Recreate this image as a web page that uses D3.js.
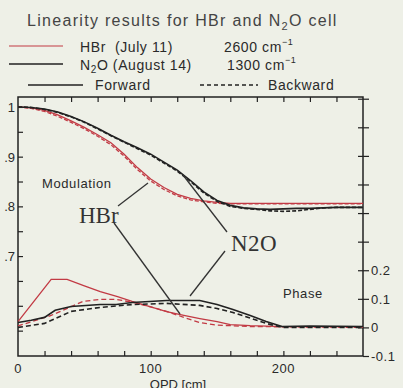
<!DOCTYPE html>
<html>
<head>
<meta charset="utf-8">
<script src="https://cdn.jsdelivr.net/npm/d3@7"></script>
<style>
  body { margin: 0; background: #eef0e7; }
  svg { display: block; }
  text { font-family: "Liberation Sans", Arial, sans-serif; fill: #2a2a2a; }
  .serif { font-family: "Liberation Serif", "DejaVu Serif", serif; }
</style>
</head>
<body>
<div id="chart"></div>
<script>
// OPD grid for modulation curves (cm)
const modOpd = [0, 10, 20, 30, 40, 50, 60, 70, 80, 90, 100, 110, 120, 130, 140, 150, 160, 170, 180, 190, 200, 210, 220, 230, 240, 250, 260];
const hbrModFwd = [1.0, 0.998, 0.993, 0.984, 0.972, 0.959, 0.944, 0.928, 0.905, 0.878, 0.855, 0.838, 0.824, 0.816, 0.811, 0.808, 0.806, 0.806, 0.806, 0.806, 0.806, 0.806, 0.806, 0.806, 0.806, 0.806, 0.806];
const hbrModBwd = [1.0, 0.997, 0.991, 0.981, 0.969, 0.956, 0.941, 0.924, 0.901, 0.874, 0.851, 0.834, 0.821, 0.813, 0.809, 0.806, 0.805, 0.805, 0.805, 0.805, 0.805, 0.805, 0.805, 0.805, 0.805, 0.805, 0.805];
const n2oModFwd = [1.0, 0.999, 0.996, 0.99, 0.981, 0.97, 0.957, 0.943, 0.93, 0.918, 0.905, 0.889, 0.873, 0.852, 0.829, 0.812, 0.802, 0.797, 0.795, 0.794, 0.795, 0.796, 0.796, 0.797, 0.798, 0.798, 0.798];
const n2oModBwd = [1.0, 0.999, 0.995, 0.989, 0.98, 0.969, 0.956, 0.942, 0.929, 0.916, 0.903, 0.887, 0.871, 0.85, 0.827, 0.81, 0.8, 0.796, 0.794, 0.791, 0.79, 0.791, 0.794, 0.797, 0.798, 0.798, 0.798];

// phase curves: [OPD, phase]
const hbrPhaseFwd = [[0, 0.02], [25, 0.168], [37, 0.168], [50, 0.145], [62, 0.125], [75, 0.108], [86, 0.091], [100, 0.072], [112, 0.055], [125, 0.042], [137, 0.031], [150, 0.02], [160, 0.01], [175, 0.006], [200, 0.003], [260, 0.003]];
const hbrPhaseBwd = [[0, 0.005], [25, 0.042], [49, 0.091], [62, 0.098], [74, 0.098], [86, 0.088], [100, 0.072], [112, 0.056], [125, 0.035], [137, 0.017], [150, 0.008], [175, 0.003], [260, 0.0]];
const n2oPhaseFwd = [[0, 0.017], [10, 0.025], [20, 0.035], [28, 0.06], [40, 0.073], [62, 0.08], [74, 0.08], [86, 0.087], [112, 0.094], [137, 0.094], [150, 0.08], [162, 0.063], [175, 0.042], [187, 0.021], [199, 0.003], [220, 0.005], [260, 0.003]];
const n2oPhaseBwd = [[0, 0.0], [20, 0.014], [40, 0.056], [62, 0.07], [86, 0.08], [112, 0.084], [137, 0.077], [150, 0.066], [162, 0.052], [175, 0.033], [187, 0.014], [199, 0.0], [260, 0.0]];

const xTicks = [0, 100, 200];
const leftTicks = [1, 0.9, 0.8, 0.7];
const leftTickLabels = ["1", ".9", ".8", ".7"];
const rightTicks = [0.2, 0.1, 0, -0.1];
const rightTickLabels = ["0.2", "0.1", "0", "-0.1"];

const red = "#c23a44", black = "#222";

const svg = d3.select("#chart").append("svg")
    .attr("width", 403)
    .attr("height", 388);

const margin = { top: 97, right: 40, bottom: 32, left: 18 },
    width = 403 - margin.left - margin.right,
    height = 388 - margin.top - margin.bottom;

const g = svg.append("g")
    .attr("transform", `translate(${margin.left},${margin.top})`);

const x = d3.scaleLinear().domain([0, 260]).range([0, width]);
const yL = d3.scaleLinear().domain([0.499, 1.02]).range([height, 0]);
const yR = d3.scaleLinear().domain([-0.1, 0.806]).range([height, 0]);

// title + legend
svg.append("text").attr("x", 27).attr("y", 26)
    .style("font-size", "16px").style("fill", "#444").style("letter-spacing", "1.3px")
    .html('Linearity results for HBr and N<tspan font-size="11px" dy="4">2</tspan><tspan dy="-4">O cell</tspan>');

const legTxt = (xx, yy, html) => svg.append("text").attr("x", xx).attr("y", yy)
    .style("font-size", "14px").style("letter-spacing", "0.6px").html(html);

svg.append("line").attr("x1", 9).attr("x2", 63).attr("y1", 46).attr("y2", 46).attr("stroke", red).attr("stroke-width", 1.2);
svg.append("line").attr("x1", 9).attr("x2", 63).attr("y1", 64).attr("y2", 64).attr("stroke", black).attr("stroke-width", 1.5);
legTxt(80, 52, "HBr&#160;&#160;(July 11)");
legTxt(224, 52, '2600 cm<tspan font-size="9px" dy="-7">\u22121</tspan>');
legTxt(80, 70, 'N<tspan font-size="10px" dy="3">2</tspan><tspan dy="-3">O (August 14)</tspan>');
legTxt(227, 70, '1300 cm<tspan font-size="9px" dy="-7">\u22121</tspan>');

svg.append("line").attr("x1", 28).attr("x2", 83).attr("y1", 85).attr("y2", 85).attr("stroke", black).attr("stroke-width", 1.3);
legTxt(95, 90, "Forward");
svg.append("line").attr("x1", 200).attr("x2", 258).attr("y1", 85).attr("y2", 85).attr("stroke", black)
    .attr("stroke-width", 1.3).attr("stroke-dasharray", "4,3");
legTxt(268, 90, "Backward");

// axes box
g.append("rect").attr("width", width).attr("height", height)
    .attr("fill", "none").attr("stroke", black).attr("stroke-width", 1.5);

const xMinor = d3.range(20, 260, 20);
g.append("g").attr("transform", `translate(0,${height})`)
    .call(d3.axisBottom(x).tickValues(xMinor).tickSize(-5).tickFormat(""))
    .call(a => a.select(".domain").remove());
g.append("g")
    .call(d3.axisTop(x).tickValues(xMinor).tickSize(-5).tickFormat(""))
    .call(a => a.select(".domain").remove());
xTicks.forEach(t => {
    g.append("text").attr("x", x(t)).attr("y", height + 17).attr("text-anchor", "middle")
        .style("font-size", "13px").style("letter-spacing", "0.5px").text(t);
});
g.append("text").attr("x", 160).attr("y", height + 33).attr("text-anchor", "middle")
    .style("font-size", "13px").text("OPD [cm]");

g.append("g")
    .call(d3.axisRight(yL).tickValues(d3.range(0.55, 1.01, 0.05)).tickSize(5).tickFormat(""))
    .call(a => a.select(".domain").remove());
leftTicks.forEach((t, i) => {
    g.append("text").attr("x", -3).attr("y", yL(t) + 5).attr("text-anchor", "end")
        .style("font-size", "13px").text(leftTickLabels[i]);
});

g.append("g").attr("transform", `translate(${width},0)`)
    .call(d3.axisRight(yR).tickValues(d3.range(-0.1, 0.81, 0.1)).tickSize(6).tickFormat(""))
    .call(a => a.select(".domain").remove());
g.append("g").attr("transform", `translate(${width},0)`)
    .call(d3.axisLeft(yR).tickValues(d3.range(0, 0.81, 0.1)).tickSize(5).tickFormat(""))
    .call(a => a.select(".domain").remove());
rightTicks.forEach((t, i) => {
    g.append("text").attr("x", width + 8).attr("y", yR(t) + 5)
        .style("font-size", "13px").style("letter-spacing", "0.5px").text(rightTickLabels[i]);
});
g.selectAll(".tick line").attr("stroke", black).attr("stroke-width", 1.2);

// curves
const modLine = d3.line().x(d => x(d[0])).y(d => yL(d[1]));
const phLine = d3.line().x(d => x(d[0])).y(d => yR(d[1]));
const zip = arr => modOpd.map((o, i) => [o, arr[i]]);

const curves = [
    { d: zip(hbrModFwd), line: modLine, c: red, dash: null, w: 1.3 },
    { d: zip(hbrModBwd), line: modLine, c: red, dash: "4,2", w: 1.3 },
    { d: zip(n2oModFwd), line: modLine, c: black, dash: null, w: 1.6 },
    { d: zip(n2oModBwd), line: modLine, c: black, dash: "4,2", w: 1.6 },
    { d: hbrPhaseFwd, line: phLine, c: red, dash: null, w: 1.3 },
    { d: hbrPhaseBwd, line: phLine, c: red, dash: "5,3", w: 1.3 },
    { d: n2oPhaseFwd, line: phLine, c: black, dash: null, w: 1.6 },
    { d: n2oPhaseBwd, line: phLine, c: black, dash: "5,3", w: 1.6 }
];
curves.forEach(cv => {
    g.append("path").datum(cv.d).attr("d", cv.line)
        .attr("fill", "none").attr("stroke", cv.c).attr("stroke-width", cv.w)
        .attr("stroke-dasharray", cv.dash);
});

// labels and annotation lines
g.append("text").attr("x", 42 - margin.left).attr("y", 188 - margin.top)
    .style("font-size", "13px").style("letter-spacing", "0.6px").text("Modulation");
g.append("text").attr("x", 283 - margin.left).attr("y", 298 - margin.top)
    .style("font-size", "13px").style("letter-spacing", "0.6px").text("Phase");

svg.append("text").attr("class", "serif").attr("x", 79).attr("y", 223)
    .style("font-size", "23px").style("fill", "#333").text("HBr");
svg.append("text").attr("class", "serif").attr("x", 231).attr("y", 251)
    .style("font-size", "23px").style("fill", "#333").style("letter-spacing", "0.5px").text("N2O");

const pointers = [
    [118, 206, 148, 183],
    [114, 223, 180, 314],
    [227, 232, 183, 175],
    [225, 251, 190, 296]
];
pointers.forEach(p => {
    svg.append("line").attr("x1", p[0]).attr("y1", p[1]).attr("x2", p[2]).attr("y2", p[3])
        .attr("stroke", "#333").attr("stroke-width", 1.3);
});
</script>
</body>
</html>
